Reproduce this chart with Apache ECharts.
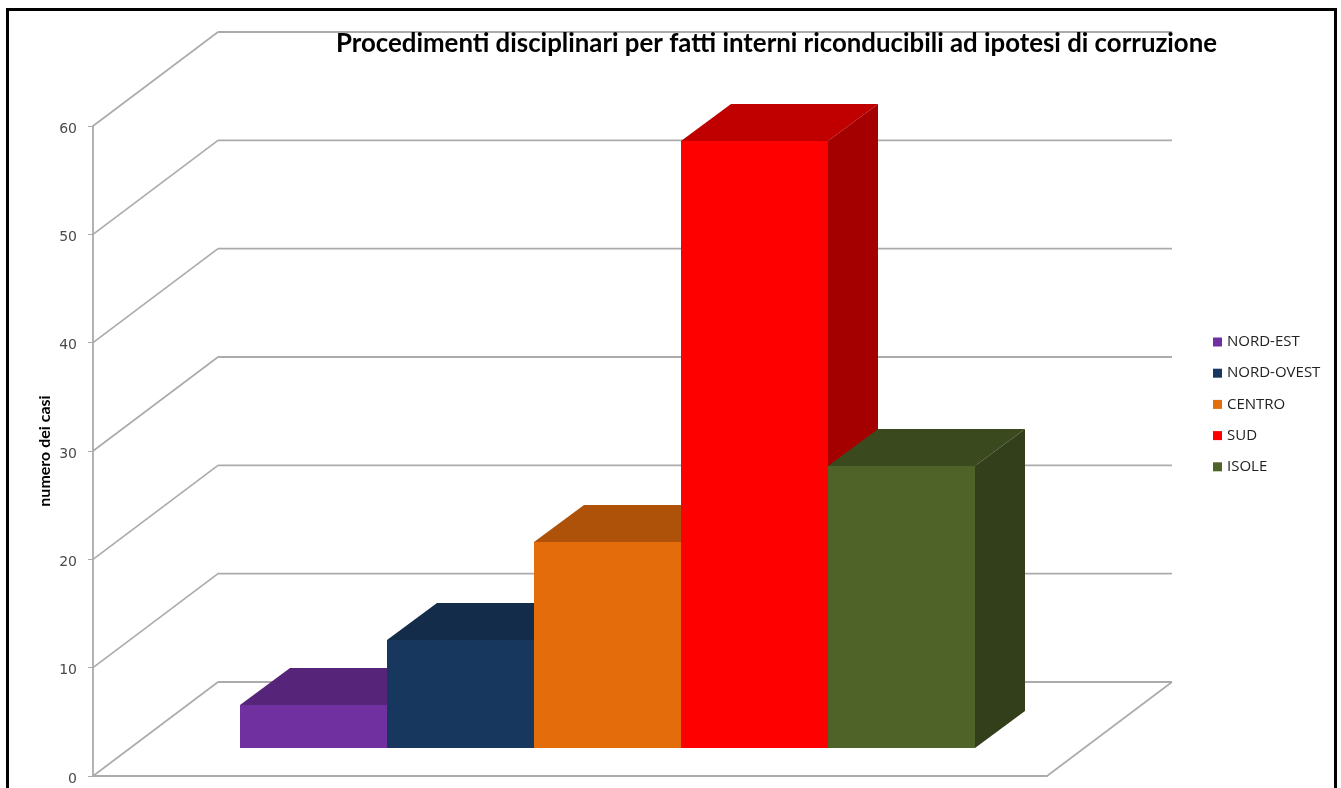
<!DOCTYPE html>
<html>
<head>
<meta charset="utf-8">
<style>html,body{margin:0;padding:0;background:#fff;overflow:hidden}#c{width:1341px;height:788px}</style>
<script src="https://cdn.jsdelivr.net/npm/echarts@6/dist/echarts.min.js"></script>
</head>
<body>
<div id="c"></div>
<script>
const categories = [''];
const regions = ['NORD-EST', 'NORD-OVEST', 'CENTRO', 'SUD', 'ISOLE'];
const casi = [4, 10, 19, 56, 26];
const tickValues = [0, 10, 20, 30, 40, 50, 60];
const frontColors = ['#7030A0', '#17375E', '#E46C0A', '#FF0000', '#4F6228'];
const topColors = ['#562478', '#122C4A', '#AD5208', '#C00000', '#3B4A1E'];
const sideColors = ['#4A1F67', '#0F2540', '#8F4407', '#A50000', '#323F1A'];
const titleText = 'Procedimenti disciplinari per fatti interni riconducibili ad ipotesi di corruzione';
const yName = 'numero dei casi';

const WALL_DX = 125, WALL_DY = -94;
const BAR_SHIFT_X = 37.5, BAR_SHIFT_Y = -28;
const BAR_DX = 50, BAR_DY = -37;
const BAR_RATIO = 147 / 954;
const GRID_COLOR = '#ABABAB';

function poly(points, fill) {
  return { type: 'polygon', shape: { points }, style: { fill, stroke: null } };
}
function line(points, w) {
  return { type: 'polyline', shape: { points }, style: { fill: null, stroke: GRID_COLOR, lineWidth: w } };
}

function renderWall(params, api) {
  const t = api.value(1);
  const c = api.coord([0, t]);
  const band = api.size([1, 0])[0];
  const x0 = c[0] - band / 2, x1 = c[0] + band / 2, y = c[1];
  const bx = x0 + WALL_DX, by = y + WALL_DY, ex = x1 + WALL_DX;
  const children = [
    line([[x0, y], [bx, by]], 1.6),
    line([[bx, by], [ex, by]], 1.8)
  ];
  if (t === 0) children.push(line([[x1, y], [ex, by]], 1.6));
  return { type: 'group', children };
}

function renderBar(idx) {
  return function (params, api) {
    const top = api.coord([0, api.value(1)]);
    const base = api.coord([0, 0]);
    const band = api.size([1, 0])[0];
    const w = band * BAR_RATIO;
    const x0 = Math.round(top[0] + BAR_SHIFT_X + (idx - regions.length / 2) * w);
    const x1 = Math.round(top[0] + BAR_SHIFT_X + (idx + 1 - regions.length / 2) * w);
    const yT = Math.round(top[1] + BAR_SHIFT_Y), yB = Math.round(base[1] + BAR_SHIFT_Y);
    return {
      type: 'group',
      children: [
        poly([[x0, yT], [x0 + BAR_DX, yT + BAR_DY], [x1 + BAR_DX, yT + BAR_DY], [x1, yT]], topColors[idx]),
        poly([[x1, yT], [x1 + BAR_DX, yT + BAR_DY], [x1 + BAR_DX, yB + BAR_DY], [x1, yB]], sideColors[idx]),
        poly([[x0, yT], [x1, yT], [x1, yB], [x0, yB]], frontColors[idx])
      ]
    };
  };
}

const series = [{
  type: 'custom',
  name: 'griglia',
  silent: true,
  renderItem: renderWall,
  data: tickValues.map(t => [0, t]),
  encode: { x: 0, y: 1 }
}].concat(regions.map((name, i) => ({
  type: 'custom',
  name,
  silent: true,
  itemStyle: { color: frontColors[i] },
  renderItem: renderBar(i),
  data: [[0, casi[i]]],
  encode: { x: 0, y: 1 }
})));

const chart = echarts.init(document.getElementById('c'), null, { renderer: 'canvas' });
chart.setOption({
  animation: false,
  backgroundColor: '#fff',
  title: {
    text: titleText, left: 336, top: 31, padding: 0,
    textStyle: { fontFamily: 'Lato', fontWeight: 'bold', fontSize: 25.8, color: '#000' }
  },
  legend: {
    data: regions, orient: 'vertical', left: 1213, top: 334.5, padding: 0,
    itemWidth: 9, itemHeight: 9, itemGap: 16.2, icon: 'rect', selectedMode: false,
    textStyle: { fontFamily: 'Open Sans', fontSize: 15, color: '#222', lineHeight: 14 }
  },
  grid: { left: 93, right: 294, top: 126, bottom: 12 },
  xAxis: {
    type: 'category', data: categories,
    axisLine: { lineStyle: { color: GRID_COLOR, width: 1.8 } },
    axisTick: { show: false }, axisLabel: { show: false }
  },
  yAxis: {
    type: 'value', min: 0, max: 60, interval: 10,
    name: yName, nameLocation: 'middle', nameGap: 40, nameMoveOverlap: false,
    nameTextStyle: { fontFamily: 'Lato', fontWeight: 'bold', fontSize: 16, color: '#000' },
    axisLine: { show: true, lineStyle: { color: GRID_COLOR, width: 1.8 } },
    axisTick: { show: true, length: 5, lineStyle: { color: GRID_COLOR, width: 1 } },
    axisLabel: { margin: 16, fontFamily: 'DejaVu Sans', fontSize: 14, color: '#4A4A4A', verticalAlign: 'top', lineHeight: 6 },
    splitLine: { show: false }
  },
  graphic: [{
    type: 'polyline', silent: true,
    shape: { points: [[7.5, 788], [7.5, 9.5], [1335.5, 9.5], [1335.5, 788]] },
    style: { fill: null, stroke: '#000', lineWidth: 3 }
  }],
  series
});
</script>
</body>
</html>
